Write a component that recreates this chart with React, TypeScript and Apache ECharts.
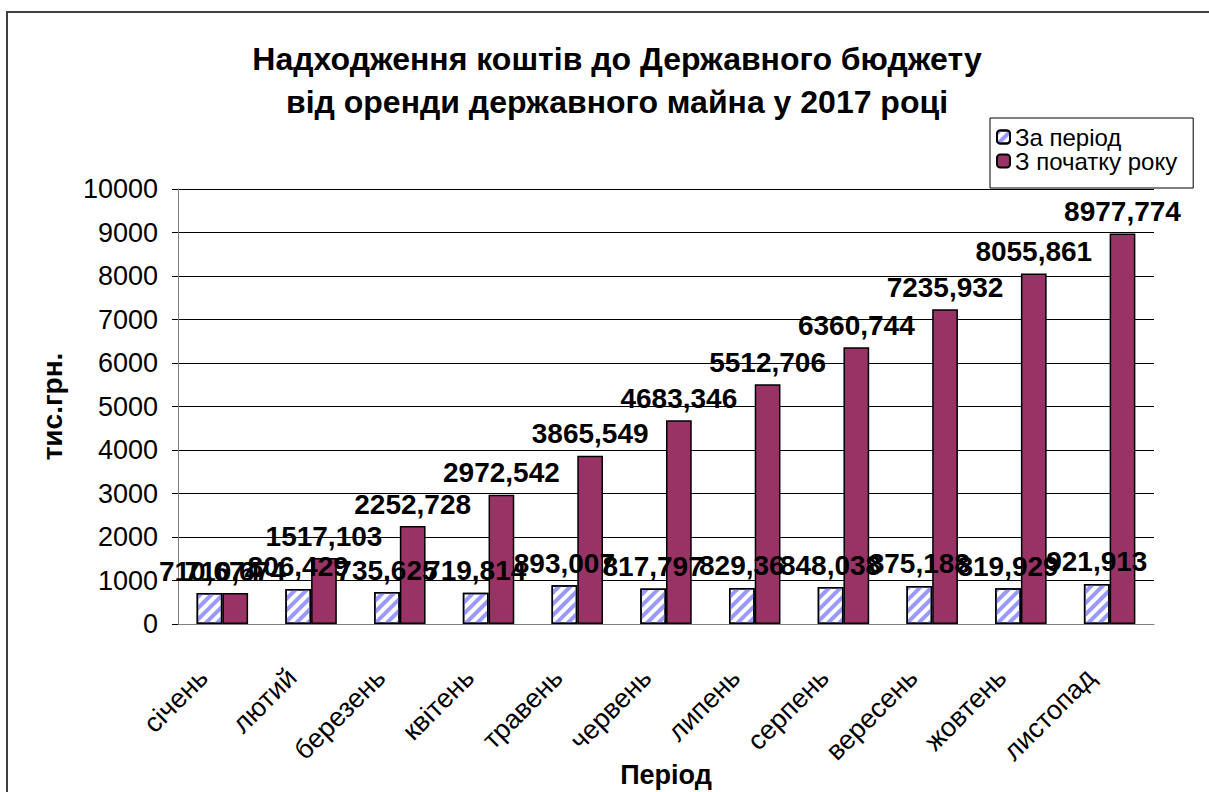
import React, { useEffect, useRef } from "react";
import * as echarts from "echarts";

const categories = ["січень", "лютий", "березень", "квітень", "травень", "червень", "липень", "серпень", "вересень", "жовтень", "листопад"];
const periodValues = [710.674, 806.429, 735.625, 719.814, 893.007, 817.797, 829.36, 848.038, 875.188, 819.929, 921.913];
const cumulativeValues = [710.674, 1517.103, 2252.728, 2972.542, 3865.549, 4683.346, 5512.706, 6360.744, 7235.932, 8055.861, 8977.774];
const seriesNames = ["За період", "З початку року"];
const titleLines = ["Надходження коштів до Державного бюджету", "від оренди державного майна у 2017 році"];
const xAxisTitle = "Період";
const yAxisTitle = "тис.грн.";

const FONT = "'Liberation Sans', Arial, sans-serif";

const fmt = (v: number) => String(v).replace(".", ",");

export default function App() {
  const ref = useRef<HTMLDivElement>(null);
  useEffect(() => {
    if (!ref.current) return;
    const chart = echarts.init(ref.current, undefined, { renderer: "svg" });
    const labelStyle = {
      show: true,
      position: "top" as const,
      distance: 8,
      fontFamily: FONT,
      fontSize: 28,
      fontWeight: "bold" as const,
      color: "#000",
      formatter: (p: any) => fmt(p.value),
    };
    chart.setOption({
      animation: false,
      backgroundColor: "#fff",
      textStyle: { fontFamily: FONT },
      title: {
        text: titleLines.join("\n"),
        left: 612,
        textAlign: "center",
        top: 32,
        textStyle: { fontFamily: FONT, fontSize: 32, fontWeight: "bold", color: "#000", lineHeight: 43 },
      },
      legend: {
        orient: "vertical",
        left: 990,
        top: 118,
        padding: [7, 16, 15, 6],
        itemGap: 0,
        itemWidth: 13,
        itemHeight: 13,
        borderColor: "#000",
        borderWidth: 1,
        textStyle: { fontFamily: FONT, fontSize: 24, color: "#000" },
        data: seriesNames,
      },
      grid: { left: 178, right: 55, top: 189, bottom: 168, containLabel: false, outerBoundsMode: "none" },
      xAxis: {
        type: "category",
        data: categories,
        axisLine: { lineStyle: { color: "#808080", width: 1 } },
        axisTick: { length: 8, lineStyle: { color: "#000" } },
        axisLabel: { rotate: 45, fontFamily: FONT, fontSize: 27, color: "#000", margin: 30, padding: [0, 27, 0, 0] },
      },
      yAxis: {
        type: "value",
        min: 0,
        max: 10000,
        interval: 1000,
        name: yAxisTitle,
        nameLocation: "middle",
        nameRotate: 90,
        nameGap: 112,
        nameTextStyle: { fontFamily: FONT, fontSize: 28, fontWeight: "bold", color: "#000" },
        axisLine: { show: true, lineStyle: { color: "#808080", width: 1 } },
        axisTick: { show: true, length: 6, lineStyle: { color: "#000" } },
        axisLabel: { fontFamily: FONT, fontSize: 27, color: "#000", margin: 20, formatter: (v: number) => String(v) },
        splitLine: { show: true, lineStyle: { color: "#000", width: 1 } },
      },
      series: [
        {
          name: seriesNames[0],
          type: "bar",
          data: periodValues,
          barGap: "0%",
          barCategoryGap: "42%",
          itemStyle: {
            color: "#ffffff",
            borderColor: "#000",
            borderWidth: 1.5,
            decal: {
              symbol: "rect",
              symbolSize: 1,
              color: "#9999ff",
              dashArrayX: [[1, 0]],
              dashArrayY: [4, 4],
              rotation: -Math.PI / 4,
            },
          },
          label: labelStyle,
        },
        {
          name: seriesNames[1],
          type: "bar",
          data: cumulativeValues,
          barGap: "0%",
          barCategoryGap: "42%",
          itemStyle: { color: "#993366", borderColor: "#000", borderWidth: 1.5 },
          label: labelStyle,
        },
      ],
      graphic: [
        {
          type: "rect",
          shape: { x: 7, y: 12, width: 1230, height: 800 },
          style: { fill: "none", stroke: "#404040", lineWidth: 2 },
          silent: true,
        },
        {
          type: "text",
          x: 666,
          y: 775,
          style: {
            text: xAxisTitle,
            fontFamily: FONT,
            fontSize: 27,
            fontWeight: "bold",
            fill: "#000",
            align: "center",
            verticalAlign: "middle",
          },
          silent: true,
        },
      ],
    });
    return () => chart.dispose();
  }, []);
  return <div ref={ref} style={{ position: "absolute", left: 0, top: 0, width: 1209, height: 792 }} />;
}
